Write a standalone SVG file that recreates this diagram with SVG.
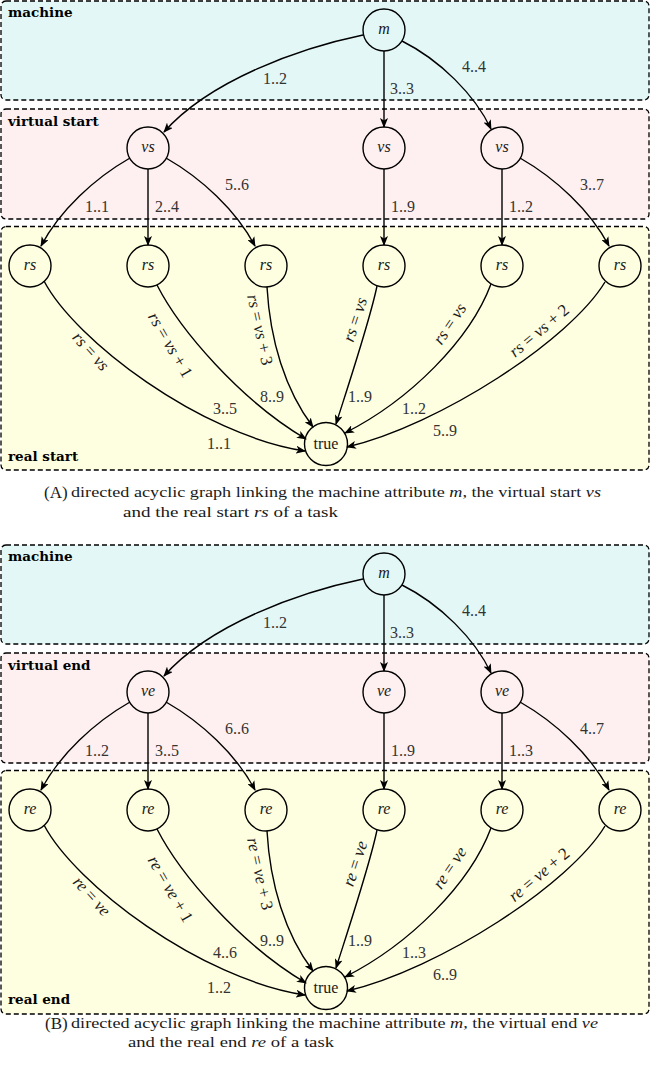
<svg xmlns="http://www.w3.org/2000/svg" width="651" height="1066" viewBox="0 0 651 1066">
<style>
.box{stroke:#000;stroke-width:1.3;stroke-dasharray:5 3}
.mach{fill:#e3f7f7}.virt{fill:#fef0f0}.real{fill:#fefee0}
.node{fill:none;stroke:#000;stroke-width:1.4}
.edge{fill:none;stroke:#000;stroke-width:1.4;marker-end:url(#arr)}
text{font-family:"Liberation Serif","Times New Roman",serif;fill:#1a1a1a}
.title{font-family:"DejaVu Serif","Liberation Serif",serif;font-weight:bold;font-size:13.5px;fill:#000}
.el{font-size:16px;text-anchor:middle;fill:#333}
.nl{font-size:16px;text-anchor:middle;font-style:italic}
.nt{font-size:16px;text-anchor:middle}
.rl{font-size:17px;text-anchor:middle}
.i{font-style:italic}
.cap{font-size:15px}
.capb{font-size:17px}
</style>
<defs>
<marker id="arr" viewBox="0 0 10 8" refX="9" refY="4" markerWidth="10" markerHeight="8" orient="auto" markerUnits="userSpaceOnUse">
<path d="M0,0 L10,4 L0,8 L2.5,4 z" fill="#000"/>
</marker>
</defs>

<!-- Panel A -->
<g id="panelA">
<g id="A-boxes">
<rect class="box mach" x="1" y="1" width="648" height="99" rx="5"/>
<rect class="box virt" x="1" y="109" width="648" height="110" rx="5"/>
<rect class="box real" x="1" y="226.5" width="648" height="243.5" rx="5"/>
<text class="title" x="8" y="17">machine</text>
<text class="title" x="8" y="126">virtual start</text>
<text class="title" x="8" y="461">real start</text>
</g>
<g id="A-connectors">
<path class="edge" d="M363,35 C300,48 210,80 164,132"/>
<path class="edge" d="M384,51 L384,127"/>
<path class="edge" d="M402,41 C440,60 475,95 491,129"/>
<path class="edge" d="M130,158 C95,178 60,210 41,246"/>
<path class="edge" d="M148,169 L148,245"/>
<path class="edge" d="M166,158 C201,178 236,210 255,246"/>
<path class="edge" d="M384,169 L384,245"/>
<path class="edge" d="M502,169 L502,245"/>
<path class="edge" d="M520,158 C555,178 590,210 609,246"/>
<path class="edge" d="M44,281 C75,340 200,435 305,451"/>
<path class="edge" d="M157,285 C180,330 240,400 306,439"/>
<path class="edge" d="M267,287 C270,340 285,390 313,427"/>
<path class="edge" d="M377,286 C370,320 350,380 336,424"/>
<path class="edge" d="M491,284 C470,340 410,400 345,433"/>
<path class="edge" d="M605,282 C570,340 440,425 347,447"/>
<text class="el" x="275" y="84">1..2</text>
<text class="el" x="402" y="94">3..3</text>
<text class="el" x="474" y="72">4..4</text>
<text class="el" x="97" y="212">1..1</text>
<text class="el" x="167" y="212">2..4</text>
<text class="el" x="237" y="190">5..6</text>
<text class="el" x="403" y="212">1..9</text>
<text class="el" x="521" y="212">1..2</text>
<text class="el" x="592" y="190">3..7</text>
<text class="el" x="219" y="449">1..1</text>
<text class="el" x="225" y="414">3..5</text>
<text class="el" x="272" y="402">8..9</text>
<text class="el" x="360" y="402">1..9</text>
<text class="el" x="414" y="414">1..2</text>
<text class="el" x="445" y="436">5..9</text>
<text class="rl" transform="translate(90,352) rotate(48)" y="4.5"><tspan class="i">rs</tspan> = <tspan class="i">vs</tspan></text>
<text class="rl" transform="translate(169.5,345.5) rotate(60)" y="4.5"><tspan class="i">rs</tspan> = <tspan class="i">vs</tspan> + 1</text>
<text class="rl" transform="translate(259,330) rotate(78)" y="4.5"><tspan class="i">rs</tspan> = <tspan class="i">vs</tspan> + 3</text>
<text class="rl" transform="translate(356,320) rotate(-72)" y="4.5"><tspan class="i">rs</tspan> = <tspan class="i">vs</tspan></text>
<text class="rl" transform="translate(450.5,324.3) rotate(-56)" y="4.5"><tspan class="i">rs</tspan> = <tspan class="i">vs</tspan></text>
<text class="rl" transform="translate(539.7,331.5) rotate(-40)" y="4.5"><tspan class="i">rs</tspan> = <tspan class="i">vs</tspan> + 2</text>
</g>
<g id="A-m"><circle class="node" cx="384" cy="30" r="21"/><text class="nl" x="384" y="34">m</text></g>
<g id="A-vs1"><circle class="node" cx="148" cy="148" r="21"/><text class="nl" x="148" y="152">vs</text></g>
<g id="A-vs2"><circle class="node" cx="384" cy="148" r="21"/><text class="nl" x="384" y="152">vs</text></g>
<g id="A-vs3"><circle class="node" cx="502" cy="148" r="21"/><text class="nl" x="502" y="152">vs</text></g>
<g id="A-rs1"><circle class="node" cx="30" cy="266" r="21"/><text class="nl" x="30" y="270">rs</text></g>
<g id="A-rs2"><circle class="node" cx="148" cy="266" r="21"/><text class="nl" x="148" y="270">rs</text></g>
<g id="A-rs3"><circle class="node" cx="266" cy="266" r="21"/><text class="nl" x="266" y="270">rs</text></g>
<g id="A-rs4"><circle class="node" cx="384" cy="266" r="21"/><text class="nl" x="384" y="270">rs</text></g>
<g id="A-rs5"><circle class="node" cx="502" cy="266" r="21"/><text class="nl" x="502" y="270">rs</text></g>
<g id="A-rs6"><circle class="node" cx="620" cy="266" r="21"/><text class="nl" x="620" y="270">rs</text></g>
<g id="A-true"><circle class="node" cx="326" cy="444" r="21.5"/><text class="nt" x="326" y="449">true</text></g>
</g>

<g id="captionA">
<text class="capb" x="44" y="498">(A)</text>
<text class="cap" x="71" y="497" textLength="530" lengthAdjust="spacingAndGlyphs">directed acyclic graph linking the machine attribute <tspan class="i">m</tspan>, the virtual start <tspan class="i">vs</tspan></text>
<text class="cap" x="123" y="516.5" textLength="215" lengthAdjust="spacingAndGlyphs">and the real start <tspan class="i">rs</tspan> of a task</text>
</g>

<!-- Panel B -->
<g id="panelB" transform="translate(0,544)">
<g id="B-boxes">
<rect class="box mach" x="1" y="1" width="648" height="99" rx="5"/>
<rect class="box virt" x="1" y="109" width="648" height="110" rx="5"/>
<rect class="box real" x="1" y="226.5" width="648" height="243.5" rx="5"/>
<text class="title" x="8" y="17">machine</text>
<text class="title" x="8" y="126">virtual end</text>
<text class="title" x="8" y="460">real end</text>
</g>
<g id="B-connectors">
<path class="edge" d="M363,35 C300,48 210,80 164,132"/>
<path class="edge" d="M384,51 L384,127"/>
<path class="edge" d="M402,41 C440,60 475,95 491,129"/>
<path class="edge" d="M130,158 C95,178 60,210 41,246"/>
<path class="edge" d="M148,169 L148,245"/>
<path class="edge" d="M166,158 C201,178 236,210 255,246"/>
<path class="edge" d="M384,169 L384,245"/>
<path class="edge" d="M502,169 L502,245"/>
<path class="edge" d="M520,158 C555,178 590,210 609,246"/>
<path class="edge" d="M44,281 C75,340 200,435 305,451"/>
<path class="edge" d="M157,285 C180,330 240,400 306,439"/>
<path class="edge" d="M267,287 C270,340 285,390 313,427"/>
<path class="edge" d="M377,286 C370,320 350,380 336,424"/>
<path class="edge" d="M491,284 C470,340 410,400 345,433"/>
<path class="edge" d="M605,282 C570,340 440,425 347,447"/>
<text class="el" x="275" y="84">1..2</text>
<text class="el" x="402" y="94">3..3</text>
<text class="el" x="474" y="72">4..4</text>
<text class="el" x="97" y="212">1..2</text>
<text class="el" x="167" y="212">3..5</text>
<text class="el" x="237" y="190">6..6</text>
<text class="el" x="403" y="212">1..9</text>
<text class="el" x="521" y="212">1..3</text>
<text class="el" x="592" y="190">4..7</text>
<text class="el" x="219" y="449">1..2</text>
<text class="el" x="225" y="414">4..6</text>
<text class="el" x="272" y="402">9..9</text>
<text class="el" x="360" y="402">1..9</text>
<text class="el" x="414" y="414">1..3</text>
<text class="el" x="445" y="436">6..9</text>
<text class="rl" transform="translate(91,353) rotate(48)" y="4.5"><tspan class="i">re</tspan> = <tspan class="i">ve</tspan></text>
<text class="rl" transform="translate(169.5,345.5) rotate(60)" y="4.5"><tspan class="i">re</tspan> = <tspan class="i">ve</tspan> + 1</text>
<text class="rl" transform="translate(259,330) rotate(78)" y="4.5"><tspan class="i">re</tspan> = <tspan class="i">ve</tspan> + 3</text>
<text class="rl" transform="translate(356,320) rotate(-72)" y="4.5"><tspan class="i">re</tspan> = <tspan class="i">ve</tspan></text>
<text class="rl" transform="translate(450.5,324.3) rotate(-56)" y="4.5"><tspan class="i">re</tspan> = <tspan class="i">ve</tspan></text>
<text class="rl" transform="translate(539.7,331.5) rotate(-40)" y="4.5"><tspan class="i">re</tspan> = <tspan class="i">ve</tspan> + 2</text>
</g>
<g id="B-m"><circle class="node" cx="384" cy="30" r="21"/><text class="nl" x="384" y="34">m</text></g>
<g id="B-ve1"><circle class="node" cx="148" cy="148" r="21"/><text class="nl" x="148" y="152">ve</text></g>
<g id="B-ve2"><circle class="node" cx="384" cy="148" r="21"/><text class="nl" x="384" y="152">ve</text></g>
<g id="B-ve3"><circle class="node" cx="502" cy="148" r="21"/><text class="nl" x="502" y="152">ve</text></g>
<g id="B-re1"><circle class="node" cx="30" cy="266" r="21"/><text class="nl" x="30" y="270">re</text></g>
<g id="B-re2"><circle class="node" cx="148" cy="266" r="21"/><text class="nl" x="148" y="270">re</text></g>
<g id="B-re3"><circle class="node" cx="266" cy="266" r="21"/><text class="nl" x="266" y="270">re</text></g>
<g id="B-re4"><circle class="node" cx="384" cy="266" r="21"/><text class="nl" x="384" y="270">re</text></g>
<g id="B-re5"><circle class="node" cx="502" cy="266" r="21"/><text class="nl" x="502" y="270">re</text></g>
<g id="B-re6"><circle class="node" cx="620" cy="266" r="21"/><text class="nl" x="620" y="270">re</text></g>
<g id="B-true"><circle class="node" cx="326" cy="444" r="21.5"/><text class="nt" x="326" y="449">true</text></g>
</g>

<g id="captionB">
<text class="capb" x="45" y="1029">(B)</text>
<text class="cap" x="71" y="1028" textLength="527" lengthAdjust="spacingAndGlyphs">directed acyclic graph linking the machine attribute <tspan class="i">m</tspan>, the virtual end <tspan class="i">ve</tspan></text>
<text class="cap" x="128" y="1047" textLength="206" lengthAdjust="spacingAndGlyphs">and the real end <tspan class="i">re</tspan> of a task</text>
</g>
</svg>
